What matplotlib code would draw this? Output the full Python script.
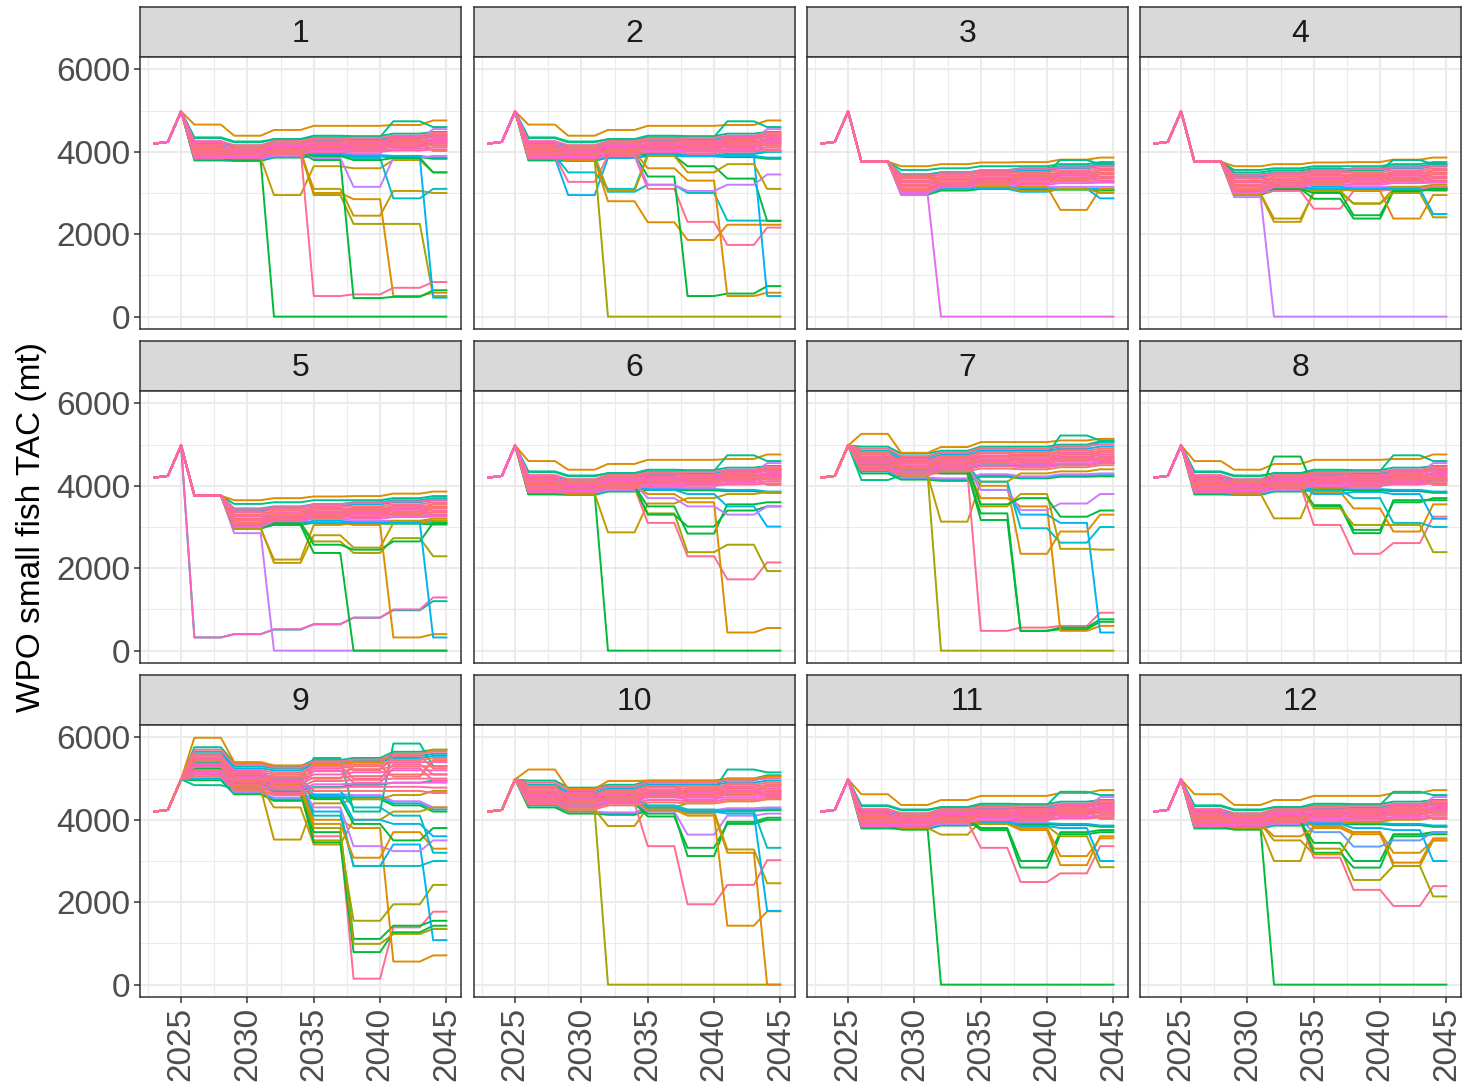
import numpy as np
import matplotlib
matplotlib.use('Agg')
import matplotlib.pyplot as plt

plt.rcParams['font.family'] = ['Liberation Sans', 'DejaVu Sans']

# ---- data -------------------------------------------------------------
YEARS = list(range(2023, 2046))
HIST_TAC = [4200, 4240, 4980]          # 2023-2025, same for every run
BLOCK_LEN = [3, 3, 3, 3, 3, 3, 2]      # TAC set every 3 yrs from 2026

PANELS = ['1', '2', '3', '4', '5', '6', '7', '8', '9', '10', '11', '12']
PANEL_BAND = ['A', 'A', 'B', 'B', 'B', 'A', 'C', 'A', 'D', 'C', 'A', 'A']

# bulk of the runs (first 6 = edge runs, rest = pink runs on top)
BAND_A = [
    [4330, 4230, 4310, 4390, 4380, 4440, 4480],
    [3790, 3780, 3860, 3900, 3890, 3870, 3830],
    [3820, 3800, 3880, 3930, 3920, 3900, 3860],
    [3860, 3830, 3900, 3960, 3950, 4300, 4550],
    [4150, 4100, 4200, 4270, 4260, 4320, 4380],
    [4200, 4150, 4250, 4300, 4300, 4350, 4420],
    [4260, 4160, 4260, 4330, 4340, 4390, 4460],
    [4180, 4110, 4210, 4300, 4270, 4330, 4410],
    [4110, 4060, 4170, 4250, 4230, 4300, 4360],
    [4050, 4030, 4140, 4190, 4210, 4250, 4310],
    [3990, 3990, 4090, 4150, 4160, 4210, 4270],
    [3940, 3960, 4060, 4110, 4120, 4170, 4220],
    [3900, 3920, 4010, 4070, 4070, 4120, 4160],
    [3870, 3880, 3970, 4030, 4030, 4070, 4110],
    [3840, 3850, 3940, 3990, 4000, 4030, 4060],
    [4080, 3940, 4040, 4100, 4110, 4160, 4200],
    [3960, 4010, 4110, 4170, 4180, 4230, 4290],
    [4020, 4080, 4000, 4220, 4150, 4280, 4150],
    [4140, 3980, 4180, 4060, 4240, 4100, 4330],
    [3920, 4050, 3950, 4140, 4050, 4190, 4020],
    [4230, 4010, 4120, 4200, 4100, 4380, 4240],
]
BAND_B = [
    [3760, 3560, 3600, 3650, 3650, 3700, 3750],
    [3760, 2960, 3060, 3100, 3080, 3080, 3060],
    [3760, 3000, 3100, 3150, 3120, 3100, 3100],
    [3760, 3050, 3150, 3200, 3150, 3150, 3150],
    [3760, 3450, 3500, 3550, 3600, 3650, 3700],
    [3760, 3400, 3450, 3500, 3550, 3600, 3650],
    [3760, 3350, 3450, 3500, 3500, 3550, 3600],
    [3760, 3300, 3400, 3450, 3450, 3500, 3550],
    [3760, 3250, 3350, 3420, 3420, 3460, 3500],
    [3760, 3200, 3300, 3380, 3380, 3420, 3450],
    [3760, 3150, 3260, 3340, 3340, 3380, 3400],
    [3760, 3100, 3220, 3300, 3300, 3330, 3350],
    [3760, 3050, 3180, 3260, 3250, 3280, 3300],
    [3760, 3000, 3140, 3220, 3200, 3240, 3250],
    [3760, 3430, 3480, 3560, 3580, 3620, 3660],
    [3760, 3180, 3400, 3280, 3480, 3360, 3560],
    [3760, 3380, 3240, 3470, 3300, 3520, 3380],
    [3760, 3080, 3310, 3200, 3400, 3290, 3480],
    [3760, 3270, 3160, 3360, 3220, 3440, 3280],
]
BAND_C = [
    [4950, 4780, 4850, 4950, 4950, 5000, 5080],
    [4300, 4150, 4120, 4220, 4180, 4220, 4230],
    [4350, 4180, 4150, 4250, 4200, 4250, 4260],
    [4400, 4200, 4180, 4280, 4230, 4280, 4300],
    [4850, 4700, 4800, 4900, 4900, 4950, 5050],
    [4800, 4650, 4750, 4850, 4850, 4900, 4950],
    [4900, 4720, 4820, 4920, 4900, 4970, 5000],
    [4750, 4620, 4720, 4820, 4800, 4850, 4900],
    [4700, 4580, 4680, 4780, 4750, 4800, 4850],
    [4650, 4540, 4640, 4730, 4700, 4750, 4800],
    [4600, 4500, 4600, 4680, 4650, 4700, 4750],
    [4550, 4450, 4550, 4640, 4600, 4650, 4700],
    [4500, 4400, 4500, 4590, 4550, 4600, 4650],
    [4450, 4350, 4450, 4540, 4500, 4550, 4600],
    [4420, 4300, 4400, 4480, 4450, 4500, 4550],
    [4380, 4250, 4350, 4420, 4400, 4450, 4500],
    [4470, 4560, 4480, 4700, 4580, 4780, 4620],
    [4680, 4420, 4660, 4560, 4760, 4600, 4850],
    [4580, 4650, 4420, 4620, 4480, 4700, 4560],
    [4820, 4480, 4580, 4800, 4620, 4880, 4700],
]
BAND_D = [
    [5760, 5380, 5300, 5450, 5500, 5650, 5700],
    [4960, 4620, 4460, 4540, 4500, 4350, 4200],
    [5000, 4650, 4500, 4580, 4550, 4400, 4250],
    [5050, 4680, 4540, 4620, 4600, 4450, 4300],
    [5650, 5300, 5250, 5400, 5450, 5550, 5600],
    [5600, 5250, 5200, 5350, 5400, 5500, 5550],
    [5700, 5350, 5270, 5420, 5460, 5600, 5650],
    [5550, 5200, 5150, 5300, 5350, 5450, 5500],
    [5500, 5150, 5100, 5250, 5300, 5400, 5400],
    [5420, 5100, 5020, 5180, 5230, 5300, 5300],
    [5350, 5050, 4950, 5100, 5150, 5200, 5200],
    [5280, 4980, 4880, 5020, 5060, 5100, 5100],
    [5200, 4900, 4800, 4940, 4970, 5000, 5000],
    [5150, 4840, 4730, 4860, 4880, 4900, 4900],
    [5100, 4780, 4660, 4780, 4800, 4800, 4780],
    [5050, 4720, 4600, 4700, 4700, 4700, 4650],
    [5180, 5150, 4900, 5300, 5000, 5350, 5100],
    [5450, 4950, 5100, 5000, 5300, 5050, 5450],
    [5300, 5200, 4780, 5200, 4900, 5250, 4950],
    [5600, 4850, 5050, 5380, 5200, 5550, 5250],
]

# runs that leave the bulk, per panel
P1_TAC = [
    [4660, 4390, 4530, 4630, 4630, 4650, 4760],
    [4350, 4250, 4300, 4350, 4360, 4740, 4600],
    [3850, 3790, 0, 0, 0, 0, 0],
    [3900, 3850, 2950, 3650, 3600, 3800, 3500],
    [3950, 3880, 3950, 3100, 2450, 3050, 3000],
    [3900, 3900, 4000, 2950, 2250, 2250, 500],
    [4000, 3950, 4050, 3000, 2850, 500, 580],
    [4050, 4000, 4100, 500, 540, 700, 840],
    [3950, 3900, 4000, 3800, 450, 480, 640],
    [4000, 3950, 4050, 3850, 3150, 3850, 3900],
    [4000, 3950, 4050, 3900, 3850, 2870, 3100],
    [4050, 3950, 4100, 3950, 3900, 3850, 460],
    [4000, 3950, 4000, 3900, 3800, 3850, 3500],
]
P1_RUN = ['orange', 'teal', 'green', 'olive', 'olive', 'yolive', 'orange',
          'rose', 'green', 'purple', 'cyan', 'blue', 'green']

P2_TAC = [
    [4660, 4390, 4530, 4630, 4630, 4650, 4760],
    [4350, 4250, 4300, 4350, 4360, 4740, 4600],
    [3850, 2950, 3850, 3900, 3900, 3950, 4000],
    [3900, 3270, 3900, 3950, 3950, 4000, 4000],
    [3900, 3500, 3100, 3950, 3900, 3950, 4000],
    [3850, 3800, 0, 0, 0, 0, 0],
    [3850, 3800, 2800, 2290, 1860, 2230, 2230],
    [3900, 3850, 3030, 3200, 3000, 2330, 2330],
    [3950, 3850, 3900, 3100, 2300, 1740, 2160],
    [3950, 3900, 3950, 3400, 500, 560, 740],
    [3950, 3900, 4000, 3600, 3300, 500, 580],
    [4000, 3950, 4000, 3900, 3650, 3350, 2320],
    [4000, 3950, 4050, 3950, 3900, 3900, 500],
    [3900, 3900, 3950, 3200, 3050, 3200, 3450],
    [3950, 3900, 3050, 3900, 3500, 3700, 3100],
]
P2_RUN = ['orange', 'teal', 'blue', 'rose', 'cyan', 'yolive', 'orange', 'cyan',
          'rose', 'green', 'orange', 'green', 'blue', 'purple', 'olive']

P3_TAC = [
    [3760, 3650, 3700, 3740, 3750, 3810, 3860],
    [3760, 3450, 3500, 3500, 3500, 3800, 3700],
    [3760, 2950, 0, 0, 0, 0, 0],
    [3760, 3400, 3350, 3300, 3150, 2590, 3100],
    [3760, 3100, 3200, 3100, 3030, 3100, 2870],
    [3760, 3050, 3150, 3150, 3050, 3100, 3000],
]
P3_RUN = ['orange', 'teal', 'mag', 'orange', 'blue', 'olive']

P4_TAC = [
    [3760, 3650, 3700, 3740, 3750, 3810, 3860],
    [3760, 3500, 3550, 3600, 3550, 3800, 3700],
    [3760, 2900, 0, 0, 0, 0, 0],
    [3760, 2950, 2300, 3050, 3100, 3150, 3200],
    [3760, 2980, 2380, 3000, 2750, 3100, 3150],
    [3760, 3000, 3050, 2620, 3050, 3100, 3150],
    [3760, 3050, 3100, 2860, 2380, 3050, 3100],
    [3760, 3050, 3100, 3000, 2460, 3050, 3100],
    [3760, 3100, 3150, 3050, 2740, 3000, 2410],
    [3760, 3100, 3150, 3100, 3050, 2380, 2950],
    [3760, 3100, 3150, 3100, 3100, 3100, 2490],
]
P4_RUN = ['orange', 'teal', 'purple', 'olive', 'olive', 'rose', 'green',
          'green', 'yolive', 'orange', 'blue']

P5_TAC = [
    [3760, 3650, 3700, 3740, 3750, 3810, 3860],
    [320, 400, 510, 640, 800, 980, 1200],
    [320, 400, 520, 640, 800, 1000, 1290],
    [3760, 2850, 0, 0, 0, 0, 0],
    [3760, 2950, 2210, 3050, 3100, 3150, 3200],
    [3760, 2990, 2130, 2800, 2500, 3100, 3150],
    [3760, 3000, 3050, 2370, 0, 0, 0],
    [3760, 3050, 3100, 2650, 2370, 2730, 2290],
    [3760, 3050, 3100, 2570, 2450, 2650, 3100],
    [3760, 3100, 3150, 3100, 3050, 320, 400],
    [3760, 3100, 3150, 3100, 3100, 3100, 320],
]
P5_RUN = ['orange', 'teal', 'pink', 'purple', 'olive', 'olive', 'green',
          'yolive', 'green', 'orange', 'blue']

P6_TAC = [
    [4600, 4390, 4530, 4630, 4630, 4650, 4760],
    [4350, 4250, 4300, 4350, 4360, 4740, 4600],
    [3800, 3800, 0, 0, 0, 0, 0],
    [3850, 3800, 2870, 3570, 3700, 3800, 3850],
    [3900, 3850, 3950, 3100, 2290, 1730, 2140],
    [3900, 3850, 3950, 3330, 2390, 2570, 1930],
    [3950, 3900, 4000, 3300, 3010, 3400, 3500],
    [3950, 3900, 4000, 3500, 2840, 3550, 3600],
    [3950, 3900, 4000, 3800, 3600, 440, 550],
    [4000, 3950, 4000, 3900, 3800, 3500, 3010],
    [4000, 3950, 4050, 3700, 3500, 3300, 3500],
]
P6_RUN = ['orange', 'teal', 'green', 'olive', 'rose', 'yolive', 'green',
          'green', 'orange', 'blue', 'purple']

P7_TAC = [
    [5260, 4800, 4940, 5060, 5060, 5100, 5140],
    [4140, 4250, 4400, 4500, 4500, 4500, 4550],
    [4700, 4600, 4650, 4700, 4750, 5220, 5100],
    [4500, 4250, 0, 0, 0, 0, 0],
    [4450, 4250, 3130, 4100, 4300, 4350, 4400],
    [4500, 4300, 4300, 480, 560, 600, 920],
    [4500, 4350, 4350, 3170, 480, 560, 760],
    [4550, 4350, 4300, 3330, 480, 520, 700],
    [4550, 4400, 4400, 3700, 3500, 480, 600],
    [4600, 4400, 4450, 3900, 3300, 3100, 440],
    [4600, 4450, 4450, 4000, 2350, 2890, 3300],
    [4600, 4450, 4500, 4100, 2970, 2620, 3000],
    [4650, 4450, 4500, 3900, 3410, 3570, 3800],
    [4600, 4400, 4450, 3500, 3800, 2470, 2450],
    [4600, 4400, 4450, 3550, 3700, 3250, 3400],
]
P7_RUN = ['orange', 'teal', 'teal', 'yolive', 'olive', 'rose', 'green', 'green',
          'orange', 'blue', 'orange', 'cyan', 'purple', 'olive', 'green']

P8_TAC = [
    [4600, 4390, 4530, 4630, 4630, 4650, 4760],
    [4350, 4250, 4300, 4350, 4360, 4740, 4600],
    [3950, 3900, 4710, 3950, 4050, 4100, 4150],
    [3850, 3800, 3210, 3950, 4000, 4050, 4100],
    [3900, 3850, 4000, 3050, 2350, 2610, 3250],
    [3900, 3850, 4000, 3530, 2930, 3600, 3700],
    [3950, 3900, 4000, 3500, 2850, 3650, 3650],
    [3950, 3900, 4000, 3450, 3050, 3050, 2390],
    [3950, 3900, 4000, 3850, 3450, 2890, 3550],
    [4000, 3950, 4000, 3900, 3700, 3100, 3000],
    [4000, 3950, 4050, 3800, 3850, 3800, 3200],
]
P8_RUN = ['orange', 'teal', 'green', 'olive', 'rose', 'green', 'green',
          'yolive', 'orange', 'cyan', 'blue']

P9_TAC = [
    [5990, 5400, 5320, 5350, 5400, 5600, 5700],
    [4840, 4750, 4700, 4800, 4850, 4900, 4950],
    [5100, 4750, 3520, 4400, 4500, 4600, 4700],
    [5150, 4800, 4300, 3400, 4000, 4200, 4300],
    [5200, 4850, 4600, 3600, 145, 1390, 1770],
    [5200, 4850, 4650, 3500, 1550, 1950, 2420],
    [5250, 4900, 4700, 3700, 1110, 1430, 1550],
    [5250, 4900, 4700, 3450, 790, 1270, 1430],
    [5300, 4950, 4750, 3800, 990, 1230, 1350],
    [5300, 4950, 4800, 4000, 3800, 560, 710],
    [5350, 5000, 4800, 4200, 2880, 3400, 1080],
    [5350, 5000, 4850, 4300, 3360, 3240, 3500],
    [5400, 5050, 4900, 4100, 2880, 2880, 3000],
    [5400, 5050, 4850, 3900, 3080, 3700, 3300],
    [5450, 5100, 4900, 4500, 3900, 3500, 3800],
    [5450, 5100, 4950, 4600, 4000, 3900, 3600],
    [5500, 5150, 5000, 4700, 4300, 4100, 3200],
    [5400, 5100, 4950, 5500, 4200, 5850, 5300],
]
P9_RUN = ['orange', 'teal', 'olive', 'olive', 'rose', 'yolive', 'green', 'green',
          'yolive', 'orange', 'blue', 'purple', 'cyan', 'orange', 'green',
          'blue', 'cyan', 'teal']

P10_TAC = [
    [5220, 4750, 4940, 4950, 4950, 5000, 5050],
    [4600, 4500, 4550, 4650, 4700, 5220, 5150],
    [4400, 4200, 0, 0, 0, 0, 0],
    [4450, 4250, 3850, 4300, 4400, 4450, 4500],
    [4500, 4300, 4400, 3360, 1950, 2420, 3020],
    [4550, 4350, 4400, 4080, 3320, 3900, 4000],
    [4550, 4350, 4450, 4150, 3120, 3950, 4050],
    [4600, 4400, 4450, 4200, 3640, 4100, 4150],
    [4600, 4400, 4500, 4250, 4100, 1430, 1780],
    [4600, 4400, 4500, 4250, 4150, 3200, 0],
    [4650, 4450, 4500, 4300, 4200, 3280, 2460],
    [4650, 4450, 4550, 4300, 4200, 4150, 1790],
    [4650, 4450, 4550, 4350, 4250, 4200, 3320],
]
P10_RUN = ['orange', 'teal', 'yolive', 'olive', 'rose', 'green', 'green',
           'purple', 'orange', 'orange', 'olive', 'blue', 'cyan']

P11_TAC = [
    [4620, 4360, 4480, 4580, 4580, 4650, 4720],
    [4350, 4250, 4300, 4350, 4360, 4680, 4600],
    [3850, 3760, 0, 0, 0, 0, 0],
    [3900, 3800, 3640, 3950, 4000, 4050, 4100],
    [3900, 3850, 3950, 3320, 2490, 2700, 3360],
    [3950, 3900, 4000, 3800, 3000, 3700, 3750],
    [3950, 3900, 4000, 3750, 2840, 3650, 3700],
    [3950, 3900, 4000, 3900, 3800, 3120, 3550],
    [3950, 3900, 4000, 3900, 3750, 2900, 3600],
    [4000, 3950, 4050, 3900, 3850, 3600, 2850],
    [4000, 3950, 4050, 3950, 3850, 3800, 3000],
]
P11_RUN = ['orange', 'teal', 'green', 'olive', 'rose', 'green', 'green',
           'orange', 'orange', 'yolive', 'blue']

P12_TAC = [
    [4620, 4360, 4480, 4580, 4580, 4650, 4720],
    [4350, 4250, 4300, 4350, 4360, 4680, 4600],
    [3850, 3760, 0, 0, 0, 0, 0],
    [3900, 3800, 3000, 3900, 3950, 4000, 4050],
    [3900, 3850, 3950, 3080, 2300, 1910, 2390],
    [3900, 3850, 3950, 3300, 2540, 2880, 2140],
    [3950, 3850, 3950, 3440, 3000, 3650, 3700],
    [3950, 3900, 4000, 3200, 2840, 3600, 3650],
    [3950, 3900, 3500, 3160, 3700, 2880, 3500],
    [4000, 3900, 3600, 3800, 3650, 2960, 3550],
    [4000, 3950, 4000, 3850, 3700, 3200, 3500],
    [4000, 3950, 4050, 3900, 3800, 3750, 3000],
    [4000, 3950, 4000, 3700, 3350, 3500, 3700],
]
P12_RUN = ['orange', 'teal', 'green', 'olive', 'rose', 'yolive', 'green',
           'green', 'olive', 'orange', 'orange', 'blue', 'blue2']

# ---- styling ------------------------------------------------------------
HUE = {'red': '#F8766D', 'orange': '#DE8C00', 'olive': '#C09B00',
       'yolive': '#A3A500', 'green': '#00BA38', 'teal': '#00C08B',
       'cyan': '#00BFC4', 'blue': '#00B4F0', 'blue2': '#619CFF',
       'purple': '#C77CFF', 'mag': '#E76BF3', 'pink': '#FF61C3',
       'rose': '#FF6C91'}
EDGE_RUN = ['teal', 'green', 'blue', 'purple', 'cyan', 'blue']
PINKS = ['#FF6C91', '#F8766D', '#FF64B0', '#FC717F', '#FF61C3',
         '#F8766D', '#FF6C91', '#F564E3', '#FF67A4', '#F8766D']

BANDS = {'A': BAND_A, 'B': BAND_B, 'C': BAND_C, 'D': BAND_D}
OUT_TAC = [P1_TAC, P2_TAC, P3_TAC, P4_TAC, P5_TAC, P6_TAC,
           P7_TAC, P8_TAC, P9_TAC, P10_TAC, P11_TAC, P12_TAC]
OUT_RUN = [P1_RUN, P2_RUN, P3_RUN, P4_RUN, P5_RUN, P6_RUN,
           P7_RUN, P8_RUN, P9_RUN, P10_RUN, P11_RUN, P12_RUN]


def series(blocks):
    return np.concatenate([HIST_TAC, np.repeat(blocks, BLOCK_LEN)])


W, H = 1475, 1084
COL_X = [140, 474, 807, 1140]
ROW_Y = [7, 341, 675]
PW, PH, SH = 321, 272, 50
LW = 1.4


def frac(x0, y0, w, h):
    return [x0 / W, 1 - (y0 + h) / H, w / W, h / H]


fig = plt.figure(figsize=(W / 100, H / 100), dpi=100)

for i, name in enumerate(PANELS):
    r, c = divmod(i, 4)
    x0, y0 = COL_X[c], ROW_Y[r]

    sax = fig.add_axes(frac(x0, y0, PW, SH))
    sax.set_facecolor('#D9D9D9')
    sax.set_xticks([])
    sax.set_yticks([])
    for s in sax.spines.values():
        s.set_color('#333333')
        s.set_linewidth(1.1)
    sax.text(0.5, 0.47, name, ha='center', va='center', fontsize=23,
             color='#1A1A1A', transform=sax.transAxes)

    ax = fig.add_axes(frac(x0, y0 + SH, PW, PH))
    band = BANDS[PANEL_BAND[i]]
    for k, b in enumerate(band[:6]):
        ax.plot(YEARS, series(b), color=HUE[EDGE_RUN[k]], lw=LW)
    for vals, run in zip(OUT_TAC[i], OUT_RUN[i]):
        ax.plot(YEARS, series(vals), color=HUE[run], lw=LW)
    for k, b in enumerate(band[6:]):
        ax.plot(YEARS, series(b), color=PINKS[k % len(PINKS)], lw=LW)

    ax.set_xlim(2021.9, 2046.1)
    ax.set_ylim(-300, 6300)
    ax.set_xticks([2025, 2030, 2035, 2040, 2045])
    ax.set_xticks([2022.5, 2027.5, 2032.5, 2037.5, 2042.5], minor=True)
    ax.set_yticks([0, 2000, 4000, 6000])
    ax.set_yticks([1000, 3000, 5000], minor=True)
    ax.grid(which='major', color='#EBEBEB', lw=1.5)
    ax.grid(which='minor', color='#EBEBEB', lw=0.8)
    ax.set_axisbelow(True)
    for s in ax.spines.values():
        s.set_color('#333333')
        s.set_linewidth(1.1)
    ax.tick_params(which='minor', length=0)
    ax.tick_params(which='major', length=4, width=1.1, color='#333333',
                   labelsize=24, labelcolor='#4D4D4D', pad=3)
    if c == 0:
        ax.set_yticklabels(['0', '2000', '4000', '6000'])
    else:
        ax.tick_params(axis='y', length=0, labelleft=False)
    if r == 2:
        ax.set_xticklabels(['2025', '2030', '2035', '2040', '2045'], rotation=90)
    else:
        ax.tick_params(axis='x', length=0, labelbottom=False)

fig.text(32 / W, 1 - 527 / H, 'WPO small fish TAC (mt)', rotation=90,
         ha='center', va='center', fontsize=24)

fig.savefig('out.png', dpi=100)
